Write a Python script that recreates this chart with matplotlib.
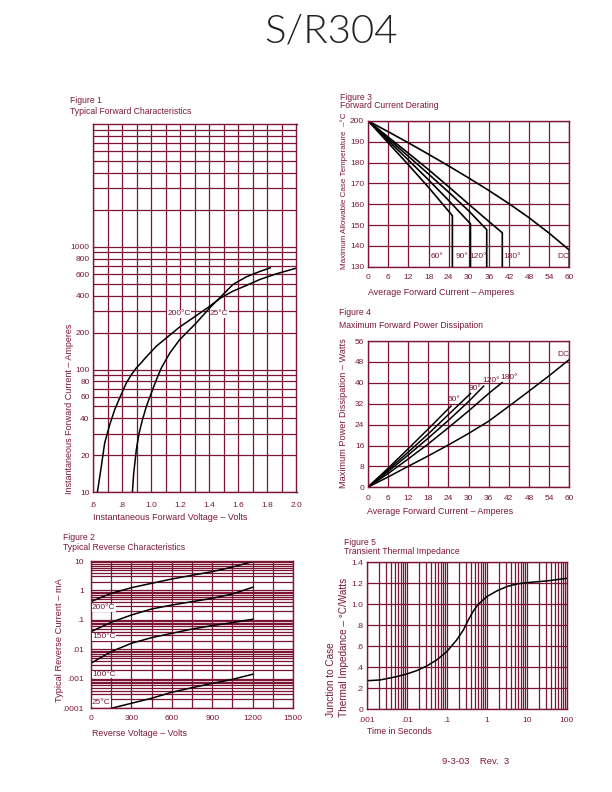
import matplotlib
matplotlib.use("Agg")
import matplotlib.pyplot as plt
import numpy as np
from matplotlib import font_manager as fm
from matplotlib.ticker import NullFormatter, FixedLocator

# ---- Figure 1: typical forward characteristics ----
f1_v_200 = [0.630, 0.657, 0.680, 0.715, 0.749, 0.783, 0.829, 0.864, 0.898, 0.933, 0.967,
            1.036, 1.105, 1.196, 1.311, 1.403, 1.472, 1.563, 1.655, 1.747, 1.861, 2.0]
f1_i_200 = [10, 16.2, 25.1, 35.5, 47, 58.5, 77.6, 90.8, 103, 114, 127,
            155, 181, 222, 275, 328, 379, 435, 484, 541, 602, 670]
f1_v_25 = [0.871, 0.880, 0.898, 0.917, 0.940, 0.967, 1.001, 1.036, 1.070, 1.128, 1.196,
           1.311, 1.403, 1.472, 1.563, 1.655, 1.747, 1.820]
f1_i_25 = [10, 14.3, 22.2, 30.3, 38.9, 50, 64.3, 82.6, 103, 136, 175,
           240, 318, 384, 493, 569, 629, 674]
f1_yticks = [10, 20, 40, 60, 80, 100, 200, 400, 600, 800, 1000]
f1_xticks = [0.6, 0.8, 1.0, 1.2, 1.4, 1.6, 1.8, 2.0]
f1_xlabels = ['.6', '.8', '1.0', '1.2', '1.4', '1.6', '1.8', '2.0']

# ---- Figure 2: typical reverse characteristics ----
f2_v = [0, 150, 300, 450, 600, 750, 900, 1050, 1200]
f2_i_200 = [0.42, 0.80, 1.24, 1.75, 2.45, 3.27, 4.35, 6.25, 9.5]
f2_i_150 = [0.040, 0.083, 0.147, 0.235, 0.32, 0.417, 0.54, 0.76, 1.28]
f2_i_100 = [0.0034, 0.0084, 0.0161, 0.025, 0.035, 0.049, 0.064, 0.081, 0.105]
f2_v_25 = [150, 300, 450, 600, 750, 900, 1050, 1200]
f2_i_25 = [1.0e-4, 1.48e-4, 2.19e-4, 3.5e-4, 5.0e-4, 7.0e-4, 9.6e-4, 1.43e-3]
f2_yticks = [1e-4, 1e-3, 1e-2, 1e-1, 1, 10]
f2_ylabels = ['.0001', '.001', '.01', '.1', '1', '10']
f2_labels = ['200°C', '150°C', '100°C', '25°C']
f2_label_y = [0.258, 0.0266, 0.0014, 0.000156]

# ---- Figure 3: forward current derating ----
f3_curves = {
    '60°':  ([0, 6, 12, 18, 25.1], [200, 189.4, 178.9, 168.1, 154.5]),
    '90°':  ([0, 6, 12, 18, 24, 30.5], [200, 190.5, 181.2, 171.7, 161.8, 150.6]),
    '120°': ([0, 6, 12, 18, 24, 30, 35.35], [200, 191.4, 183.0, 174.5, 165.8, 156.8, 147.8]),
    '180°': ([0, 6, 12, 18, 24, 30, 36, 40], [200, 192.2, 184.5, 176.6, 168.4, 160.0, 151.7, 146.3]),
    'DC':   ([0, 6, 12, 18, 24, 30, 36, 42, 48, 54, 60],
             [200, 194.8, 189.5, 184.0, 178.4, 172.6, 166.6, 160.3, 153.5, 146.1, 138.0]),
}
f3_label_x = [20.6, 27.9, 32.8, 43.0, 58.2]

# ---- Figure 4: maximum forward power dissipation ----
f4_curves = {
    '60°':  ([0, 6, 12, 18, 24.8], [0, 7.2, 14.7, 22.3, 31.1]),
    '90°':  ([0, 6, 12, 18, 24, 30.6], [0, 6.6, 13.4, 20.4, 27.8, 35.9]),
    '120°': ([0, 6, 12, 18, 24, 30, 34.5], [0, 6.0, 12.3, 18.8, 25.6, 32.8, 38.7]),
    '180°': ([0, 6, 12, 18, 24, 30, 36, 40], [0, 5.2, 10.8, 16.6, 22.8, 29.2, 35.9, 40.1]),
    'DC':   ([0, 6, 12, 18, 24, 30, 36, 42, 48, 54, 60],
             [0, 3.9, 8.0, 12.0, 16.2, 20.6, 25.3, 31.0, 36.8, 42.7, 48.9]),
}
f4_label_pos = [(25.8, 33.5), (31.8, 38.0), (36.7, 40.8), (42.2, 42.1), (58.1, 51.0)]

# ---- Figure 5: transient thermal impedance ----
f5_t = [0.001, 0.00215, 0.00562, 0.01, 0.0178, 0.0316, 0.0562, 0.1, 0.178, 0.261, 0.348,
        0.464, 0.619, 1.0, 1.78, 3.16, 5.62, 10, 31.6, 100]
f5_z = [0.27, 0.277, 0.309, 0.334, 0.366, 0.41, 0.468, 0.547, 0.659, 0.754, 0.85,
        0.935, 1.0, 1.072, 1.126, 1.168, 1.193, 1.206, 1.222, 1.247]

W, H = 612, 792
maroon = '#7c1535'
txt = '#7a1838'
TICK = 6.0
plt.rcParams['font.family'] = ['Liberation Sans', 'DejaVu Sans']

# a light face for the big part number, if one is installed
title_font = fm.FontProperties(family='DejaVu Sans', size=27)
for fam in ['Lato', 'Roboto', 'Open Sans', 'Noto Sans', 'Inter']:
    hits = [f for f in fm.fontManager.ttflist
            if f.name == fam and f.style == 'normal' and str(f.weight) in ('300', 'light', '200')]
    if hits:
        title_font = fm.FontProperties(fname=hits[0].fname, size=29)
        break

fig = plt.figure(figsize=(W / 100, H / 100), dpi=100)


def add_ax(l, r, t, b):
    ax = fig.add_axes([l / W, 1 - b / H, (r - l) / W, (b - t) / H])
    for s in ax.spines.values():
        s.set_color(maroon)
        s.set_linewidth(1.0)
    ax.tick_params(which='both', length=0, colors=txt, labelsize=TICK)
    ax.set_axisbelow(True)
    return ax


def ftext(x, y, s, **kw):
    kw.setdefault('color', txt)
    kw.setdefault('fontsize', 6.2)
    fig.text(x / W, 1 - y / H, s, **kw)


def grid(ax):
    ax.grid(which='both', color=maroon, linewidth=0.9)


# title and footer
fig.text(331 / W, 1 - 32 / H, 'S/R304', ha='center', va='center',
         fontproperties=title_font, color='#222222')
ftext(442, 762, '9-3-03    Rev.  3', ha='left', va='center', fontsize=6.8)

# Figure 1
ax1 = add_ax(93, 296.5, 124, 492.3)
ax1.set_yscale('log')
ax1.set_xlim(0.6, 2.0)
ax1.set_ylim(10, 10000)
ax1.set_xticks(f1_xticks)
ax1.set_xticklabels(f1_xlabels)
ax1.xaxis.set_minor_locator(FixedLocator(np.arange(0.7, 2.0, 0.2)))
ax1.set_yticks(f1_yticks)
ax1.set_yticklabels([str(v) for v in f1_yticks])
ax1.yaxis.set_minor_locator(FixedLocator([m * 10 ** d for d in range(1, 4) for m in range(2, 10)]))
ax1.yaxis.set_minor_formatter(NullFormatter())
ax1.tick_params(axis='x', pad=7)
ax1.tick_params(axis='y', pad=2.5)
grid(ax1)
ax1.plot(f1_v_200, f1_i_200, color='black', lw=1.1)
ax1.plot(f1_v_25, f1_i_25, color='black', lw=1.1)
ax1.text(1.193, 285, '200°C', ha='center', va='center', fontsize=TICK, color=txt,
         bbox=dict(facecolor='white', edgecolor='none', pad=0.3))
ax1.text(1.469, 285, '25°C', ha='center', va='center', fontsize=TICK, color=txt,
         bbox=dict(facecolor='white', edgecolor='none', pad=0.3))
ftext(70, 100.5, 'Figure 1', va='center')
ftext(70, 111, 'Typical Forward Characteristics', va='center')
ftext(70, 409, 'Instantaneous Forward Current – Amperes', rotation=90, ha='center',
      va='center', fontsize=6.5)
ftext(93, 517, 'Instantaneous Forward Voltage – Volts', ha='left', va='center', fontsize=6.5)

# Figure 2
ax2 = add_ax(91, 293, 561, 708.3)
ax2.set_yscale('log')
ax2.set_xlim(0, 1500)
ax2.set_ylim(1e-4, 10)
ax2.set_xticks(range(0, 1501, 300))
ax2.xaxis.set_minor_locator(FixedLocator(range(150, 1500, 300)))
ax2.set_yticks(f2_yticks)
ax2.set_yticklabels(f2_ylabels)
ax2.yaxis.set_minor_locator(FixedLocator([m * 10.0 ** d for d in range(-4, 1) for m in range(2, 10)]))
ax2.yaxis.set_minor_formatter(NullFormatter())
ax2.tick_params(axis='x', pad=4.5)
ax2.tick_params(axis='y', pad=5)
grid(ax2)
for v, i in [(f2_v, f2_i_200), (f2_v, f2_i_150), (f2_v, f2_i_100), (f2_v_25, f2_i_25)]:
    ax2.plot(v, i, color='black', lw=1.1)
for lab, y in zip(f2_labels, f2_label_y):
    ax2.text(8, y, lab, ha='left', va='center', fontsize=TICK, color=txt,
             bbox=dict(facecolor='white', edgecolor='none', pad=0.3))
ftext(63.3, 537, 'Figure 2', va='center')
ftext(63.3, 547.5, 'Typical Reverse Characteristics', va='center')
ftext(60, 640, 'Typical Reverse Current – mA', rotation=90, ha='center', va='center',
      fontsize=6.7)
ftext(92, 734, 'Reverse Voltage – Volts', ha='left', va='center', fontsize=6.4)

# Figure 3
ax3 = add_ax(368.3, 569.3, 121, 266.7)
ax3.set_xlim(0, 60)
ax3.set_ylim(130, 200)
ax3.set_xticks(range(0, 61, 6))
ax3.set_yticks(range(130, 201, 10))
ax3.tick_params(axis='x', pad=5)
ax3.tick_params(axis='y', pad=3)
grid(ax3)
for (lab, (x, y)), lx in zip(f3_curves.items(), f3_label_x):
    ax3.plot(x + [x[-1]], y + [130], color='black', lw=1.2)
    ax3.text(lx, 135, lab, ha='center', va='center', fontsize=TICK, color=txt)
ftext(340, 97, 'Figure 3', va='center')
ftext(340, 106, 'Forward Current Derating', va='center')
ftext(343.7, 191, 'Maximum Allowable Case Temperature  –°C', rotation=90, ha='center',
      va='center', fontsize=5.8)
ftext(368, 292, 'Average Forward Current – Amperes', ha='left', va='center', fontsize=6.4)

# Figure 4
ax4 = add_ax(367.7, 569.3, 341, 487.3)
ax4.set_xlim(0, 60)
ax4.set_ylim(0, 56)
ax4.set_xticks(range(0, 61, 6))
ax4.set_yticks(range(0, 57, 8))
ax4.tick_params(axis='x', pad=5.5)
ax4.tick_params(axis='y', pad=2.5)
grid(ax4)
for (lab, (x, y)), (lx, ly) in zip(f4_curves.items(), f4_label_pos):
    ax4.plot(x, y, color='black', lw=1.1)
    ax4.text(lx, ly, lab, ha='center', va='center', fontsize=TICK, color=txt)
ftext(339.3, 312.3, 'Figure 4', va='center')
ftext(339.3, 325.7, 'Maximum Forward Power Dissipation', va='center')
ftext(343.3, 413, 'Maximum Power Dissipation – Watts', rotation=90, ha='center', va='center',
      fontsize=6.6)
ftext(367, 512, 'Average Forward Current – Amperes', ha='left', va='center', fontsize=6.4)

# Figure 5
ax5 = add_ax(366.7, 566.7, 562.3, 709)
ax5.set_xscale('log')
ax5.set_xlim(0.001, 100)
ax5.set_ylim(0, 1.4)
ax5.set_xticks([0.001, 0.01, 0.1, 1, 10, 100])
ax5.set_xticklabels(['.001', '.01', '.1', '1', '10', '100'])
ax5.xaxis.set_minor_locator(FixedLocator([m * 10.0 ** d for d in range(-3, 2) for m in range(2, 10)]))
ax5.xaxis.set_minor_formatter(NullFormatter())
ax5.set_yticks([0, 0.2, 0.4, 0.6, 0.8, 1.0, 1.2, 1.4])
ax5.set_yticklabels(['0', '.2', '.4', '.6', '.8', '1.0', '1.2', '1.4'])
ax5.tick_params(axis='x', pad=5.5)
ax5.tick_params(axis='y', pad=2.5)
grid(ax5)
ax5.plot(f5_t, f5_z, color='black', lw=1.1)
ftext(344, 542.3, 'Figure 5', va='center')
ftext(344, 552, 'Transient Thermal Impedance', va='center')
ftext(330.5, 717, 'Junction to Case', rotation=90, ha='center', va='bottom', fontsize=7.2)
ftext(343.8, 717, 'Thermal Impedance – °C/Watts', rotation=90, ha='center', va='bottom',
      fontsize=7.2)
ftext(367, 731, 'Time in Seconds', ha='left', va='center', fontsize=6.3)

fig.savefig('out.png', dpi=100)
